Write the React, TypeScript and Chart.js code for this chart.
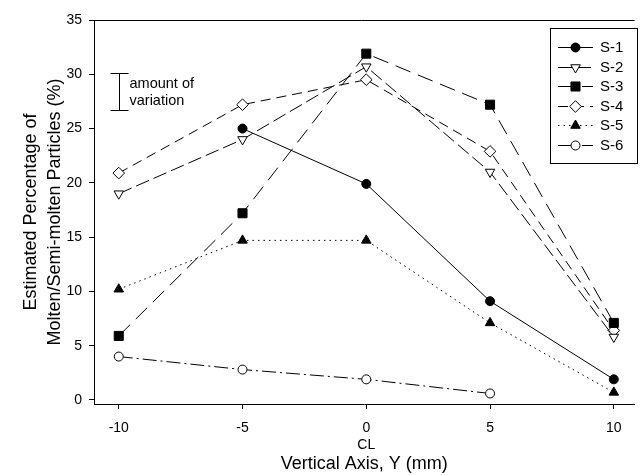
import React, { useEffect, useRef } from 'react';
import { Chart, registerables } from 'chart.js';
Chart.register(...registerables);

const xPositions = [-10, -5, 0, 5, 10];
const xTickLabels = ['-10', '-5', '0', '5', '10'];
const xCenterNote = 'CL';
const yTicks = [0, 5, 10, 15, 20, 25, 30, 35];
const seriesNames = ['S-1', 'S-2', 'S-3', 'S-4', 'S-5', 'S-6'];
const s1 = [null, 25, 19.9, 9.1, 1.9];
const s2 = [19, 24, 30.7, 21, 5.8];
const s3 = [5.9, 17.2, 31.9, 27.2, 7.1];
const s4 = [20.9, 27.2, 29.5, 22.9, 6.4];
const s5 = [10.2, 14.7, 14.7, 7.1, 0.7];
const s6 = [4, 2.8, 1.9, 0.6, null];
const variationX = -10;
const variationRange = [26.7, 30.1];
const variationText = ['amount of', 'variation'];
const xTitle = 'Vertical Axis, Y (mm)';
const yTitle = ['Estimated Percentage of', 'Molten/Semi-molten Particles (%)'];

const FONT = "'Liberation Sans', Arial, sans-serif";

const styles = [
  { pointStyle: 'circle', radius: 4.5, fill: '#000', dash: [], rotation: 0 },
  { pointStyle: 'triangle', radius: 5.5, fill: '#fff', dash: [14, 5], rotation: 180 },
  { pointStyle: 'rect', radius: 6.4, fill: '#000', dash: [16, 8], rotation: 0 },
  { pointStyle: 'rectRot', radius: 5.8, fill: '#fff', dash: [10, 6], rotation: 0 },
  { pointStyle: 'triangle', radius: 5.5, fill: '#000', dash: [1.5, 4], rotation: 0 },
  { pointStyle: 'circle', radius: 4.5, fill: '#fff', dash: [14, 4, 2, 4], rotation: 0 },
];

const allSeries = [s1, s2, s3, s4, s5, s6];

function drawMarker(ctx: CanvasRenderingContext2D, st: any, x: number, y: number) {
  const r = st.radius;
  ctx.beginPath();
  if (st.pointStyle === 'circle') {
    ctx.arc(x, y, r, 0, Math.PI * 2);
  } else if (st.pointStyle === 'rect') {
    const s = Math.SQRT1_2 * r;
    ctx.rect(x - s, y - s, 2 * s, 2 * s);
  } else if (st.pointStyle === 'rectRot') {
    ctx.moveTo(x, y - r);
    ctx.lineTo(x + r, y);
    ctx.lineTo(x, y + r);
    ctx.lineTo(x - r, y);
    ctx.closePath();
  } else if (st.pointStyle === 'triangle') {
    const rad = (st.rotation * Math.PI) / 180;
    for (let k = 0; k < 3; k++) {
      const a = rad + (k * 2 * Math.PI) / 3;
      const px = x + Math.sin(a) * r;
      const py = y - Math.cos(a) * r;
      if (k === 0) ctx.moveTo(px, py);
      else ctx.lineTo(px, py);
    }
    ctx.closePath();
  }
  ctx.fill();
  ctx.stroke();
}

export default function App() {
  const ref = useRef<HTMLCanvasElement>(null);
  useEffect(() => {
    document.body.style.margin = '0';
    const canvas = ref.current!;
    const datasets = allSeries.map((vals, i) => ({
      label: seriesNames[i],
      data: xPositions
        .map((x, j) => ({ x, y: vals[j] }))
        .filter((p) => p.y !== null) as { x: number; y: number }[],
      borderColor: '#000',
      borderWidth: 1,
      borderDash: styles[i].dash,
      pointStyle: styles[i].pointStyle as any,
      pointRadius: styles[i].radius,
      pointRotation: styles[i].rotation,
      pointBackgroundColor: styles[i].fill,
      pointBorderColor: '#000',
      pointBorderWidth: 1,
      fill: false,
      tension: 0,
    }));

    const extras = {
      id: 'extras',
      afterDraw(chart: any) {
        const ctx = chart.ctx;
        const { left, right, top } = chart.chartArea;
        const xs = chart.scales.x;
        const ys = chart.scales.y;
        ctx.save();
        ctx.strokeStyle = '#000';
        ctx.lineWidth = 1;
        ctx.setLineDash([]);
        ctx.beginPath();
        ctx.moveTo(left - 5, Math.round(top) + 0.5);
        ctx.lineTo(right, Math.round(top) + 0.5);
        ctx.stroke();
        // variation bar
        const vx = Math.round(xs.getPixelForValue(variationX)) + 0.5;
        const y1 = Math.round(ys.getPixelForValue(variationRange[1])) + 0.5;
        const y0 = Math.round(ys.getPixelForValue(variationRange[0])) + 0.5;
        ctx.beginPath();
        ctx.moveTo(vx, y1);
        ctx.lineTo(vx, y0);
        ctx.moveTo(vx - 9, y1);
        ctx.lineTo(vx + 9, y1);
        ctx.moveTo(vx - 9, y0);
        ctx.lineTo(vx + 9, y0);
        ctx.stroke();
        ctx.fillStyle = '#000';
        ctx.font = `14.5px ${FONT}`;
        ctx.textAlign = 'left';
        ctx.textBaseline = 'middle';
        ctx.fillText(variationText[0], vx + 10, y1 + 10);
        ctx.fillText(variationText[1], vx + 10, y1 + 27);
        // legend
        const bx = 550.5, by = 28.5, bw = 87, bh = 135;
        ctx.strokeRect(bx, by, bw, bh);
        datasets.forEach((ds, i) => {
          const ly = Math.round(47 + i * 19.6) + 0.5;
          ctx.setLineDash(ds.borderDash);
          ctx.beginPath();
          ctx.moveTo(558, ly);
          ctx.lineTo(593, ly);
          ctx.stroke();
          ctx.setLineDash([]);
          ctx.fillStyle = styles[i].fill;
          ctx.strokeStyle = '#000';
          drawMarker(ctx, styles[i], 575.5, ly);
          ctx.fillStyle = '#000';
          ctx.font = `15px ${FONT}`;
          ctx.fillText(ds.label, 600, ly);
        });
        ctx.restore();
      },
    };

    const chart = new Chart(canvas, {
      type: 'line',
      data: { datasets: datasets as any },
      plugins: [extras],
      options: {
        animation: false,
        responsive: false,
        layout: { padding: { top: 20, right: 0, left: 0, bottom: 0 } },
        plugins: { legend: { display: false }, tooltip: { enabled: false } },
        scales: {
          x: {
            type: 'linear',
            min: -11,
            max: 10.84,
            afterBuildTicks: (s: any) => {
              s.ticks = xPositions.map((v) => ({ value: v }));
            },
            afterFit: (s: any) => {
              s.height = 71;
            },
            ticks: {
              color: '#000',
              font: { family: FONT, size: 14 },
              padding: 11,
              maxRotation: 0,
              callback: (v: any) => {
                const i = xPositions.indexOf(Number(v));
                if (i < 0) return '';
                return Number(v) === 0 ? [xTickLabels[i], xCenterNote] : xTickLabels[i];
              },
            },
            grid: { drawOnChartArea: false, drawTicks: true, tickLength: 5, color: '#000' },
            border: { display: true, color: '#000', width: 1 },
            title: {
              display: true,
              text: xTitle,
              color: '#000',
              font: { family: FONT, size: 18 },
              padding: { top: 0, bottom: 0 },
            },
          },
          y: {
            type: 'linear',
            min: -0.37,
            max: 35,
            afterBuildTicks: (s: any) => {
              s.ticks = yTicks.map((v) => ({ value: v }));
            },
            afterFit: (s: any) => {
              s.width = 94;
            },
            ticks: {
              color: '#000',
              font: { family: FONT, size: 14 },
              padding: 7,
            },
            grid: { drawOnChartArea: false, drawTicks: true, tickLength: 5, color: '#000' },
            border: { display: true, color: '#000', width: 1 },
            title: {
              display: true,
              text: yTitle,
              color: '#000',
              font: { family: FONT, size: 18, lineHeight: 1.28 },
              padding: { top: 20, bottom: 4 },
            },
          },
        },
      },
    });
    return () => chart.destroy();
  }, []);
  return (
    <div style={{ width: 642, height: 475 }}>
      <canvas ref={ref} width={642} height={475} style={{ display: 'block' }} />
    </div>
  );
}
